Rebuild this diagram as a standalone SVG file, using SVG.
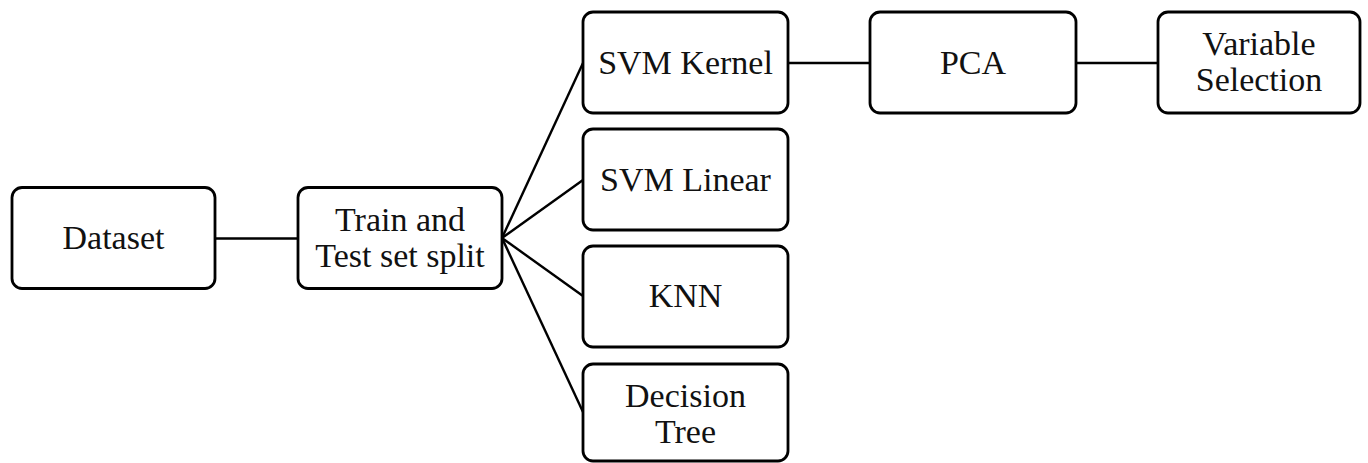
<svg xmlns="http://www.w3.org/2000/svg" width="1368" height="463" viewBox="0 0 1368 463">
<style>
.box{fill:#fff;stroke:#000;stroke-width:2.8}
.lbl{font-family:"Liberation Serif","Times New Roman",serif;font-size:34px;fill:#111;text-anchor:middle}
.edge{stroke:#000;stroke-width:2.4;fill:none}
</style>
<rect width="1368" height="463" fill="#fff"/>
<g id="connectors">
<line class="edge" x1="215" y1="238.5" x2="298" y2="238.5"/>
<line class="edge" x1="502" y1="238" x2="583" y2="63"/>
<line class="edge" x1="502" y1="238" x2="583" y2="180"/>
<line class="edge" x1="502" y1="238" x2="583" y2="296"/>
<line class="edge" x1="502" y1="238" x2="583" y2="412"/>
<line class="edge" x1="788" y1="63" x2="870" y2="63"/>
<line class="edge" x1="1076" y1="63" x2="1158" y2="63"/>
</g>
<g id="dataset">
<rect class="box" x="12" y="187.5" width="203" height="101" rx="10"/>
<text class="lbl" x="113.5" y="249">Dataset</text>
</g>
<g id="split">
<rect class="box" x="298" y="187.5" width="204" height="101" rx="10"/>
<text class="lbl" x="400" y="231">Train and</text>
<text class="lbl" x="400" y="267">Test set split</text>
</g>
<g id="svm-kernel">
<rect class="box" x="583" y="12" width="205" height="101" rx="10"/>
<text class="lbl" x="685.5" y="74">SVM Kernel</text>
</g>
<g id="svm-linear">
<rect class="box" x="583" y="129" width="205" height="101" rx="10"/>
<text class="lbl" x="685.5" y="191">SVM Linear</text>
</g>
<g id="knn">
<rect class="box" x="583" y="246" width="205" height="101" rx="10"/>
<text class="lbl" x="685.5" y="307">KNN</text>
</g>
<g id="decision-tree">
<rect class="box" x="583" y="364" width="205" height="97" rx="10"/>
<text class="lbl" x="685.5" y="407">Decision</text>
<text class="lbl" x="685.5" y="443">Tree</text>
</g>
<g id="pca">
<rect class="box" x="870" y="12" width="206" height="101" rx="10"/>
<text class="lbl" x="973" y="74">PCA</text>
</g>
<g id="variable-selection">
<rect class="box" x="1158" y="12" width="202" height="101" rx="10"/>
<text class="lbl" x="1259" y="55">Variable</text>
<text class="lbl" x="1259" y="91">Selection</text>
</g>
</svg>
